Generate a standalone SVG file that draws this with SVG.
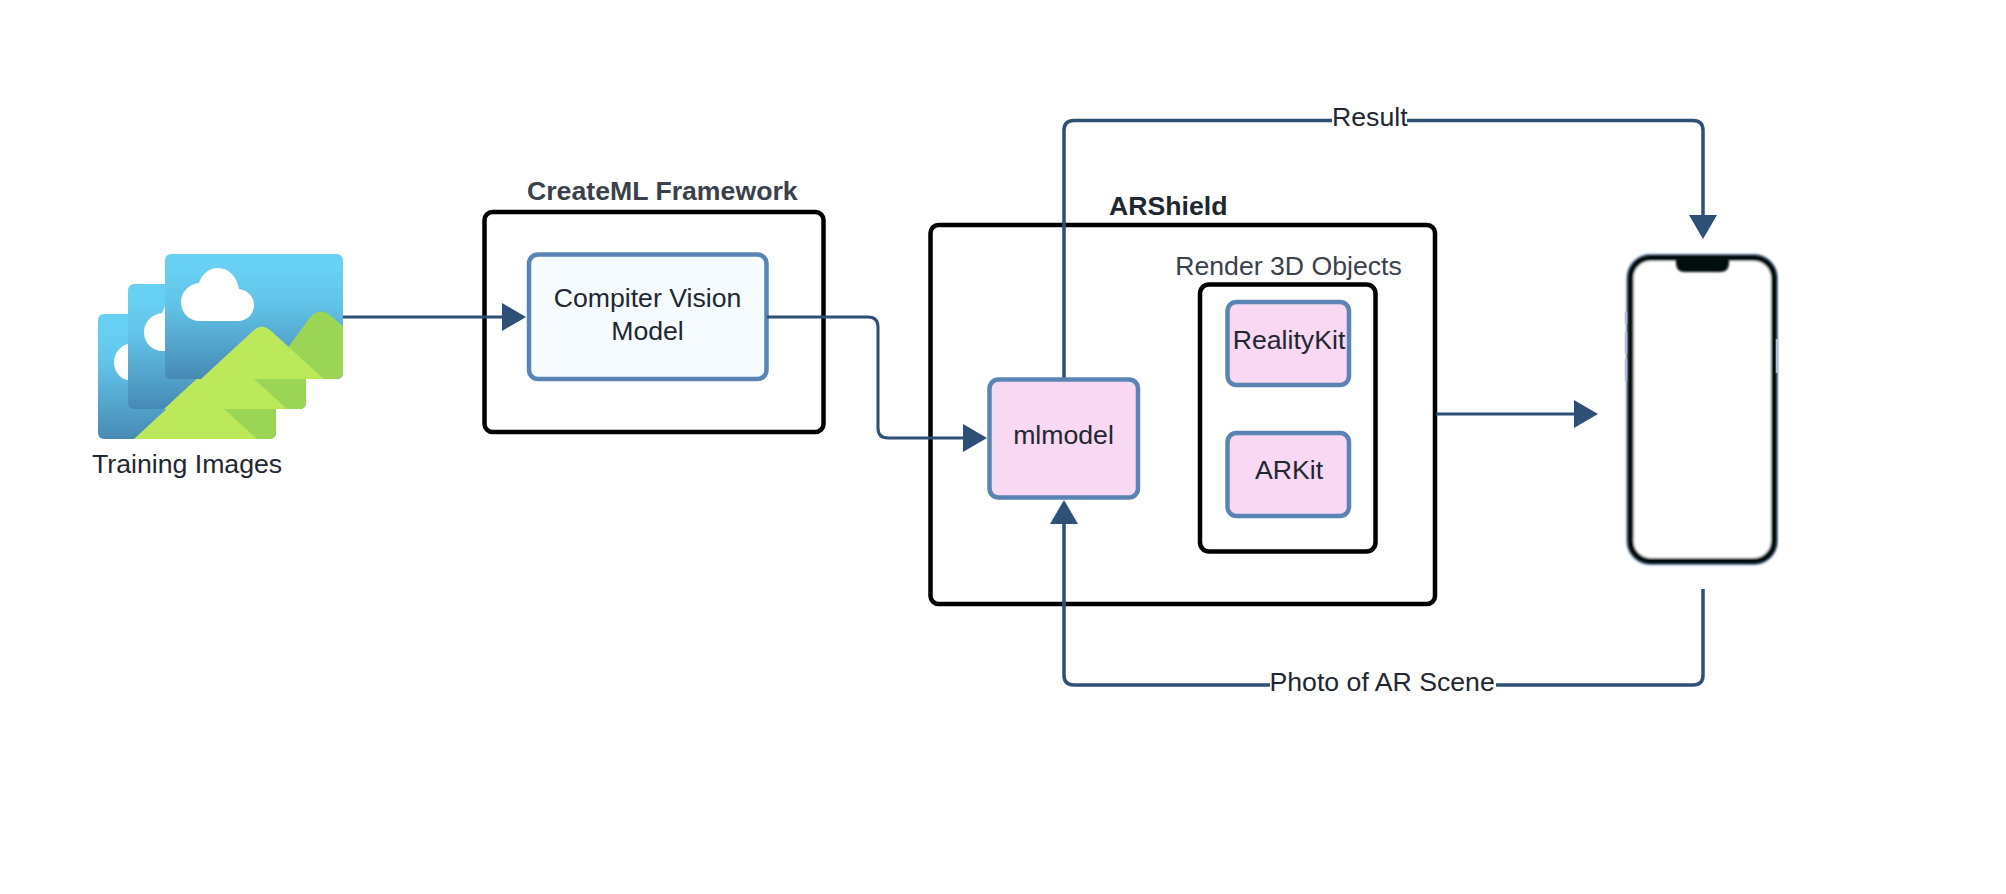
<svg xmlns="http://www.w3.org/2000/svg" width="2006" height="894" viewBox="0 0 2006 894">
<defs>
<style>
text{font-family:"Liberation Sans",Arial,sans-serif;font-size:26.67px;fill:#1f2730}
.c{text-anchor:middle}
.b{font-weight:bold}
.g{fill:#3a414a}
.frame{fill:#fff;stroke:#000;stroke-width:4.500}
.blue{fill:#f6fbff;stroke:#5a84b4;stroke-width:4.500}
.pink{fill:#f8d8f2;stroke:#5a84b4;stroke-width:4.500}
.conn{fill:none;stroke:#2e4f76;stroke-width:3.500}
.thin{stroke-width:3}
</style>
<linearGradient id="sky" x1="0" y1="0" x2="0" y2="1"><stop offset="0.1" stop-color="#68d1f3"/><stop offset="0.4" stop-color="#62c3e8"/><stop offset="1" stop-color="#468ab4"/></linearGradient>
<clipPath id="card"><rect width="178" height="125" rx="6"/></clipPath>
<marker id="ah" markerUnits="userSpaceOnUse" markerWidth="26" markerHeight="30" refX="2" refY="14.500" orient="auto"><path d="M0 0.500L24 14.500L0 28.500Z" fill="#2e4f76"/></marker>
<g id="picture">
<rect width="178" height="125" rx="6" fill="url(#sky)"/>
<path d="M35 67C24 67 16 59 16 48C16 38 24 30 34 29C37 20 44 14 53 14C64 14 72 23 74 35C83 36 89 43 89 51C89 60 82 67 73 67Z" fill="#fff"/>
<g clip-path="url(#card)">
<path d="M100 125L146 62Q156 53 166 62L178 72V125Z" fill="#9ad555"/>
<path d="M36 125L89 76Q97 69 105 76L159 125Z" fill="#bce95a"/>
</g>
</g>
<filter id="soft" x="-10%" y="-10%" width="120%" height="120%"><feGaussianBlur stdDeviation="0.8"/></filter>
</defs>
<rect width="2006" height="894" fill="#fff"/>
<g id="training-images">
<use href="#picture" x="98" y="314"/>
<use href="#picture" x="128" y="284"/>
<use href="#picture" x="165" y="254"/>
<text x="92" y="473">Training Images</text>
</g>
<g id="createml-framework">
<rect class="frame" x="484.500" y="212" width="339" height="220" rx="8"/>
<text class="b g" x="527" y="200">CreateML Framework</text>
</g>
<g id="computer-vision-model">
<rect class="blue" x="529" y="254.500" width="237.500" height="124.500" rx="9"/>
<text class="c" x="647.500" y="307">Compiter Vision</text>
<text class="c" x="647.500" y="340">Model</text>
</g>
<g id="arshield">
<rect class="frame" x="930.500" y="225" width="504.500" height="379" rx="8"/>
<text class="b" x="1109" y="215">ARShield</text>
</g>
<g id="render-3d-objects">
<rect class="frame" x="1200" y="284.500" width="175.500" height="267" rx="9"/>
<text class="c g" x="1288.500" y="275">Render 3D Objects</text>
</g>
<g id="realitykit">
<rect class="pink" x="1227.500" y="302" width="121.500" height="83" rx="9"/>
<text class="c" x="1289" y="349">RealityKit</text>
</g>
<g id="arkit">
<rect class="pink" x="1227.500" y="433" width="121.500" height="83" rx="9"/>
<text class="c" x="1289" y="479">ARKit</text>
</g>
<g id="phone">
<rect x="1629" y="256.500" width="146" height="306" rx="21" fill="#fff" stroke="#a9bfdc" stroke-width="6" filter="url(#soft)"/>
<rect x="1630.500" y="258" width="143.500" height="303" rx="20" fill="#fff" stroke="#05070c" stroke-width="6" filter="url(#soft)"/>
<path d="M1676 258H1729V263Q1729 272 1720 272H1685Q1676 272 1676 263Z" fill="#05070c" filter="url(#soft)"/>
<path d="M1626 312v12M1626 332v22M1626 359v22M1777 339v34" stroke="#a9bfdc" stroke-width="2.500" fill="none"/>
</g>
<g id="connectors">
<path class="conn thin" marker-end="url(#ah)" d="M343 317H504"/>
<path class="conn thin" marker-end="url(#ah)" d="M767 317H868Q878 317 878 327V428Q878 438 888 438H965"/>
<path class="conn" marker-end="url(#ah)" d="M1064 378V130.500Q1064 120.500 1074 120.500H1693Q1703 120.500 1703 130.500V217"/>
<path class="conn" marker-end="url(#ah)" d="M1703 589V675Q1703 685 1693 685H1074Q1064 685 1064 675V522"/>
<path class="conn thin" marker-end="url(#ah)" d="M1436 414H1576"/>
</g>
<g id="mlmodel">
<rect class="pink" x="989.500" y="379.500" width="148.500" height="118" rx="9"/>
<text class="c" x="1063.500" y="444">mlmodel</text>
</g>
<g id="connector-labels">
<rect x="1332" y="105" width="75" height="32" fill="#fff"/>
<text x="1332" y="126">Result</text>
<rect x="1270" y="668" width="226" height="34" fill="#fff"/>
<text x="1269.500" y="691">Photo of AR Scene</text>
</g>
</svg>
